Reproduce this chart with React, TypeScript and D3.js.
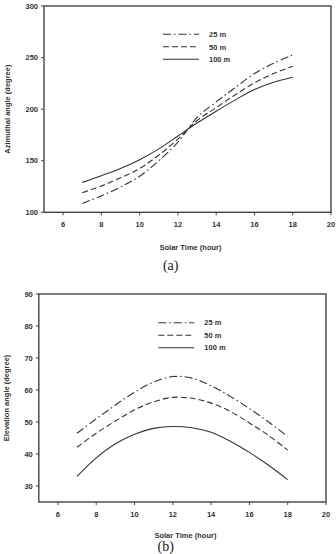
import React from "react";
import * as d3 from "d3";

const hours = [7, 8, 9, 10, 11, 12, 13, 14, 15, 16, 17, 18];
const xTicks = [6, 8, 10, 12, 14, 16, 18, 20];

const azimuth25 = [108.5, 116, 124.5, 135, 150, 168, 192, 207, 221, 234.5, 244.5, 252.5];
const azimuth50 = [119, 125.5, 133.5, 142.5, 155.5, 171, 189, 201.5, 214, 225.5, 234.5, 241.5];
const azimuth100 = [129, 135.5, 142.5, 151, 161.5, 174, 186.5, 198, 209, 219, 226, 231];
const azimuthTicks = [100, 150, 200, 250, 300];

const elev25 = [46.5, 51, 55.3, 59.3, 62.5, 64.2, 63.7, 61.3, 58, 54.2, 50, 45.5];
const elev50 = [42.1, 46.5, 50.3, 53.8, 56.3, 57.7, 57.4, 55.9, 53.3, 49.7, 45.8, 41.2];
const elev100 = [33, 38.8, 43.2, 46.2, 48, 48.6, 48.2, 46.8, 44, 40.5, 36.5, 32];
const elevTicks = [30, 40, 50, 60, 70, 80, 90];

const seriesNames = ["25 m", "50 m", "100 m"];
const dashes = ["8,3,1.5,3", "6,3", ""];

const INK = "#333";
const FONT = "Arial, 'Liberation Sans', sans-serif";

type PanelProps = {
  left: number; right: number; top: number; bottom: number;
  yDomain: [number, number]; yTicks: number[]; series: number[][];
  yTitle: string; legendX: number; legendY: number; caption: string; captionY: number;
  tickLabelY: number; titleY: number; yTitleX: number; captionX: number;
};

function Panel(p: PanelProps) {
  const x = d3.scaleLinear().domain([5, 20]).range([p.left, p.right]);
  const y = d3.scaleLinear().domain(p.yDomain).range([p.bottom, p.top]);
  const line = d3
    .line<number>()
    .x((_, i) => x(hours[i]))
    .y((d) => y(d))
    .curve(d3.curveCatmullRom.alpha(0.5));
  const midX = (p.left + p.right) / 2;
  return (
    <g>
      <rect x={p.left} y={p.top} width={p.right - p.left} height={p.bottom - p.top}
        fill="none" stroke="#444" strokeWidth={1.4} />
      {xTicks.map((t) => (
        <g key={"x" + t}>
          <line x1={x(t)} x2={x(t)} y1={p.bottom} y2={p.bottom + 3} stroke="#444" strokeWidth={1} />
          <text x={x(t)} y={p.tickLabelY} textAnchor="middle" fontSize={7.5} fontWeight="bold"
            fill={INK} fontFamily={FONT}>{t}</text>
        </g>
      ))}
      {p.yTicks.map((t) => (
        <g key={"y" + t}>
          <line x1={p.left - 3} x2={p.left} y1={y(t)} y2={y(t)} stroke="#444" strokeWidth={1} />
          <text x={p.left - 6} y={y(t) + 2.6} textAnchor="end" fontSize={7.5} fontWeight="bold"
            fill={INK} fontFamily={FONT}>{t}</text>
        </g>
      ))}
      {p.series.map((s, i) => (
        <path key={"s" + i} d={line(s) || ""} fill="none" stroke={INK} strokeWidth={1.1}
          strokeDasharray={dashes[i] || undefined} />
      ))}
      {seriesNames.map((n, i) => (
        <g key={"l" + i}>
          <line x1={p.legendX} x2={p.legendX + 36} y1={p.legendY + i * 12.5} y2={p.legendY + i * 12.5}
            stroke={INK} strokeWidth={1.1} strokeDasharray={dashes[i] || undefined} />
          <text x={p.legendX + 46} y={p.legendY + i * 12.5 + 2.7} fontSize={7.5} fontWeight="bold"
            fill={INK} fontFamily={FONT}>{n}</text>
        </g>
      ))}
      <text x={midX + 3} y={p.titleY} textAnchor="middle" fontSize={7.5} fontWeight="bold"
        fill={INK} fontFamily={FONT}>Solar Time (hour)</text>
      <text transform={`translate(${p.yTitleX},${(p.top + p.bottom) / 2}) rotate(-90)`}
        textAnchor="middle" fontSize={7.5} fontWeight="bold" fill={INK} fontFamily={FONT}>{p.yTitle}</text>
      <text x={p.captionX} y={p.captionY} textAnchor="middle" fontSize={14}
        fill="#222" fontFamily="'Liberation Serif', 'Times New Roman', serif">{p.caption}</text>
    </g>
  );
}

export default function App() {
  return (
    <svg width={336} height={554} style={{ position: "absolute", left: 0, top: 0, background: "#fff" }}>
      <rect x={0} y={0} width={336} height={554} fill="#fff" />
      <Panel left={44} right={331} top={6} bottom={212.3} yDomain={[100, 300]} yTicks={azimuthTicks}
        series={[azimuth25, azimuth50, azimuth100]} yTitle="Azimuthal angle (degree)"
        legendX={163} legendY={34.3} caption="(a)" captionY={270} captionX={170.7}
        tickLabelY={226.5} titleY={249.5} yTitleX={10} />
      <Panel left={38.8} right={326} top={294} bottom={502} yDomain={[25, 90]} yTicks={elevTicks}
        series={[elev25, elev50, elev100]} yTitle="Elevation angle (degree)"
        legendX={158.3} legendY={322.7} caption="(b)" captionY={550.5} captionX={165.7}
        tickLabelY={517} titleY={537.5} yTitleX={8.5} />
    </svg>
  );
}
